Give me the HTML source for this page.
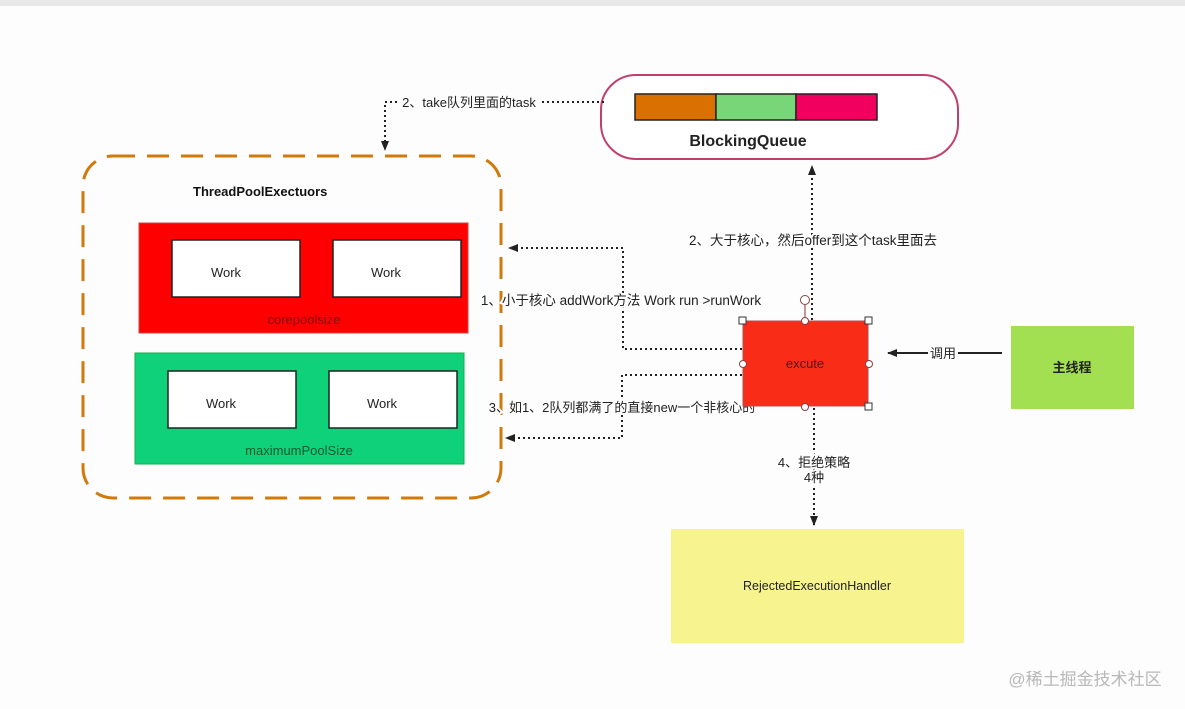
<!DOCTYPE html>
<html><head><meta charset="utf-8"><style>
html,body{margin:0;padding:0;background:#fdfdfd;}
svg{display:block;}
text{font-family:"Liberation Sans","Noto Sans CJK SC",sans-serif;}
</style></head><body>
<svg width="1185" height="709" viewBox="0 0 1185 709" xmlns="http://www.w3.org/2000/svg">
<defs>
<marker id="ah" markerWidth="10" markerHeight="10" refX="9" refY="5" orient="auto" markerUnits="userSpaceOnUse"><path d="M0,1 L10,5 L0,9 z" fill="#222"/></marker>
</defs>
<rect x="0" y="0" width="1185" height="6" fill="#e8e8e8"/>
<rect x="83" y="156" width="418" height="342" rx="30" fill="none" stroke="#d07a0c" stroke-width="3" stroke-dasharray="22,12"/>
<text x="193" y="196" font-size="13" font-weight="bold" fill="#111">ThreadPoolExectuors</text>
<rect x="139" y="223" width="329" height="110" fill="#ff0000" stroke="#cc4444"/>
<rect x="172" y="240" width="128" height="57" fill="#fff" stroke="#222" stroke-width="1.5"/>
<rect x="333" y="240" width="128" height="57" fill="#fff" stroke="#222" stroke-width="1.5"/>
<text x="226" y="277" font-size="13" text-anchor="middle" fill="#222">Work</text>
<text x="386" y="277" font-size="13" text-anchor="middle" fill="#222">Work</text>
<text x="304" y="324" font-size="13" text-anchor="middle" fill="#7a1010">corepoolsize</text>
<rect x="135" y="353" width="329" height="111" fill="#0ed17a" stroke="#12b04a"/>
<rect x="168" y="371" width="128" height="57" fill="#fff" stroke="#222" stroke-width="1.5"/>
<rect x="329" y="371" width="128" height="57" fill="#fff" stroke="#222" stroke-width="1.5"/>
<text x="221" y="408" font-size="13" text-anchor="middle" fill="#222">Work</text>
<text x="382" y="408" font-size="13" text-anchor="middle" fill="#222">Work</text>
<text x="299" y="455" font-size="13" text-anchor="middle" fill="#1a5a2a">maximumPoolSize</text>
<rect x="601" y="75" width="357" height="84" rx="35" fill="#fff" stroke="#c0406a" stroke-width="2"/>
<rect x="635" y="94" width="81" height="26" fill="#d97000" stroke="#222" stroke-width="1.5"/>
<rect x="716" y="94" width="80" height="26" fill="#78d678" stroke="#222" stroke-width="1.5"/>
<rect x="796" y="94" width="81" height="26" fill="#f20060" stroke="#222" stroke-width="1.5"/>
<text x="748" y="146" font-size="16" font-weight="bold" text-anchor="middle" fill="#222">BlockingQueue</text>
<g fill="none" stroke="#222" stroke-width="2" stroke-dasharray="2,3">
<path d="M604,102 H542"/>
<path d="M397,102 H385 V150" marker-end="url(#ah)"/>
<path d="M812,320 V166" marker-end="url(#ah)"/>
<path d="M742,349 H623 V248 H509" marker-end="url(#ah)"/>
<path d="M742,375 H622 V438 H506" marker-end="url(#ah)"/>
<path d="M814,408 V525" marker-end="url(#ah)"/>
</g>
<g fill="none" stroke="#222" stroke-width="2">
<path d="M1002,353 H958"/>
<path d="M928,353 H888" marker-end="url(#ah)"/>
</g>
<text x="469" y="107" font-size="13" text-anchor="middle" fill="#222" style="paint-order:stroke" stroke="#fdfdfd" stroke-width="4">2、take队列里面的task</text>
<text x="813" y="245" font-size="13.5" text-anchor="middle" fill="#222" style="paint-order:stroke" stroke="#fdfdfd" stroke-width="4">2、大于核心，然后offer到这个task里面去</text>
<text x="621" y="305" font-size="13.5" text-anchor="middle" fill="#222" style="paint-order:stroke" stroke="#fdfdfd" stroke-width="4">1、小于核心 addWork方法 Work run &gt;runWork</text>
<text x="622" y="412" font-size="13" text-anchor="middle" fill="#222" style="paint-order:stroke" stroke="#fdfdfd" stroke-width="4">3、如1、2队列都满了的直接new一个非核心的</text>
<text x="943" y="358" font-size="13" text-anchor="middle" fill="#222" style="paint-order:stroke" stroke="#fdfdfd" stroke-width="3">调用</text>
<text x="814" y="467" font-size="13" text-anchor="middle" fill="#222" style="paint-order:stroke" stroke="#fdfdfd" stroke-width="4">4、拒绝策略</text>
<text x="814" y="482" font-size="13" text-anchor="middle" fill="#222" style="paint-order:stroke" stroke="#fdfdfd" stroke-width="4">4种</text>
<rect x="743" y="321" width="125" height="85" fill="#f92c18" stroke="#b05050"/>
<text x="805" y="368" font-size="13" text-anchor="middle" fill="#5a1010">excute</text>
<line x1="805" y1="305" x2="805" y2="321" stroke="#8a3030"/>
<g fill="#fff" stroke="#8a4040" stroke-width="1">
<circle cx="805" cy="300" r="4.5"/>
<circle cx="805" cy="321" r="3.5"/><circle cx="805" cy="407" r="3.5"/>
<circle cx="743" cy="364" r="3.5"/><circle cx="869" cy="364" r="3.5"/>
<rect x="739" y="317" width="7" height="7" stroke="#333"/><rect x="865" y="317" width="7" height="7" stroke="#333"/>
<rect x="865" y="403" width="7" height="7" stroke="#333"/>
</g>
<rect x="1011" y="326" width="123" height="83" fill="#a2e052"/>
<text x="1072" y="372" font-size="13" font-weight="bold" text-anchor="middle" fill="#222">主线程</text>
<rect x="671" y="529" width="293" height="114" fill="#f7f38f"/>
<text x="817" y="590" font-size="12.5" text-anchor="middle" fill="#222">RejectedExecutionHandler</text>
<text x="1085" y="685" font-size="17" text-anchor="middle" fill="#b8b8b8">@稀土掘金技术社区</text>
</svg>
</body></html>
